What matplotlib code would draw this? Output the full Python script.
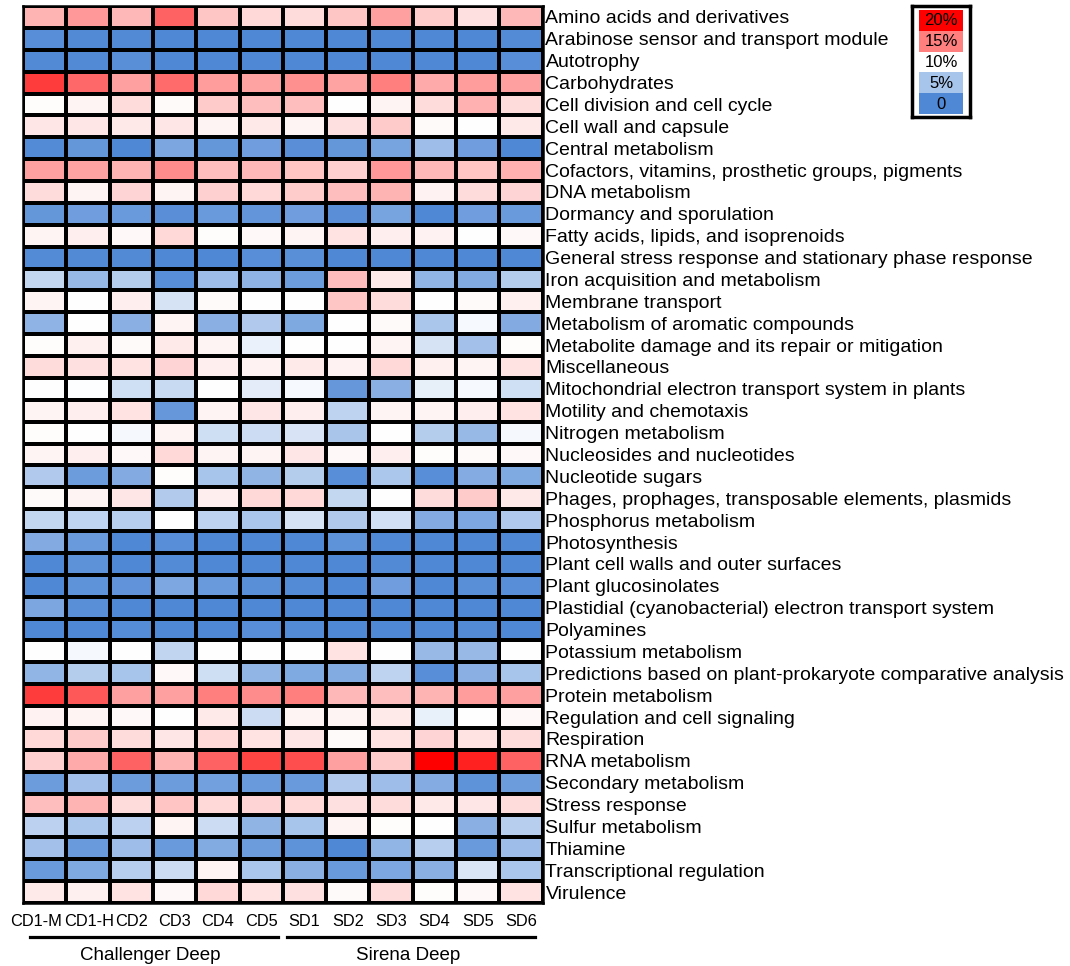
import numpy as np
import matplotlib
matplotlib.use("Agg")
import matplotlib.pyplot as plt
import matplotlib.transforms as mtransforms
from matplotlib.colors import LinearSegmentedColormap
from matplotlib.patches import Rectangle

plt.rcParams['font.family'] = ['Liberation Sans', 'DejaVu Sans']

# subsystem categories (rows, top to bottom)
categories = [
    "Amino acids and derivatives",
    "Arabinose sensor and transport module",
    "Autotrophy",
    "Carbohydrates",
    "Cell division and cell cycle",
    "Cell wall and capsule",
    "Central metabolism",
    "Cofactors, vitamins, prosthetic groups, pigments",
    "DNA metabolism",
    "Dormancy and sporulation",
    "Fatty acids, lipids, and isoprenoids",
    "General stress response and stationary phase response",
    "Iron acquisition and metabolism",
    "Membrane transport",
    "Metabolism of aromatic compounds",
    "Metabolite damage and its repair or mitigation",
    "Miscellaneous",
    "Mitochondrial electron transport system in plants",
    "Motility and chemotaxis",
    "Nitrogen metabolism",
    "Nucleosides and nucleotides",
    "Nucleotide sugars",
    "Phages, prophages, transposable elements, plasmids",
    "Phosphorus metabolism",
    "Photosynthesis",
    "Plant cell walls and outer surfaces",
    "Plant glucosinolates",
    "Plastidial (cyanobacterial) electron transport system",
    "Polyamines",
    "Potassium metabolism",
    "Predictions based on plant-prokaryote comparative analysis",
    "Protein metabolism",
    "Regulation and cell signaling",
    "Respiration",
    "RNA metabolism",
    "Secondary metabolism",
    "Stress response",
    "Sulfur metabolism",
    "Thiamine",
    "Transcriptional regulation",
    "Virulence",
]

samples = ["CD1-M", "CD1-H", "CD2", "CD3", "CD4", "CD5",
           "SD1", "SD2", "SD3", "SD4", "SD5", "SD6"]

# relative values (0-20 %) per sample, in category order
cd1_m = [12.9, 0.5, 0.2, 17.6, 10.1, 11.0, 0.3, 13.7, 11.4, 1.2, 10.4, 0.3, 6.7, 10.4,
         3.6, 10.1, 11.4, 10.0, 10.4, 10.1, 10.4, 5.5, 10.2, 6.7, 3.0, 0, 0, 2.5, 0,
         10.0, 3.8, 17.6, 10.5, 11.5, 11.8, 1.7, 12.5, 6.1, 4.7, 1.5, 10.8]
cd1_h = [14.0, 0.2, 0.2, 15.9, 10.4, 11.0, 1.2, 13.6, 10.4, 1.8, 10.7, 0.2, 4.1, 10.0,
         10.0, 10.6, 11.2, 9.9, 10.7, 10.0, 10.7, 1.7, 10.4, 6.4, 1.5, 0.8, 0.9, 0.6, 0,
         9.4, 5.8, 16.5, 10.4, 12.1, 13.3, 4.7, 12.9, 5.3, 1.5, 2.8, 10.6]
cd2 = [12.8, 0.2, 0.6, 13.7, 11.4, 10.9, 0, 12.9, 11.7, 1.5, 10.3, 0.2, 5.8, 10.7,
       3.4, 10.2, 11.1, 7.3, 11.1, 9.4, 10.3, 3.0, 11.0, 5.9, 0, 0, 1.0, 0, 0.4,
       10.0, 5.0, 13.7, 10.3, 11.4, 16.1, 1.7, 11.4, 6.1, 4.5, 5.9, 11.1]
cd3 = [16.1, 0, 0, 15.8, 10.2, 11.0, 2.5, 14.5, 10.4, 0.7, 11.5, 0, 0.5, 7.6,
       10.4, 10.8, 11.7, 6.9, 1.3, 10.4, 11.5, 10.1, 5.7, 10.0, 0.5, 0.3, 2.6, 0, 0,
       6.5, 10.3, 13.7, 10.0, 11.0, 12.9, 1.7, 12.3, 10.4, 1.5, 7.1, 10.3]
cd4 = [12.2, 0, 0, 13.9, 12.1, 10.4, 1.2, 12.5, 11.8, 1.5, 10.1, 0, 4.5, 10.2,
       3.4, 10.4, 10.7, 10.0, 10.4, 7.2, 10.4, 5.0, 10.7, 6.3, 0, 0, 1.5, 0, 0,
       10.0, 7.2, 15.0, 10.8, 11.5, 16.1, 2.0, 11.5, 7.1, 2.9, 10.4, 11.5]
cd5 = [11.5, 0, 0, 13.6, 12.5, 10.9, 1.8, 12.8, 11.5, 1.1, 10.3, 0.5, 3.6, 10.0,
       5.5, 8.8, 10.5, 8.4, 11.0, 7.1, 10.4, 3.7, 11.5, 5.3, 0, 0, 0.6, 0, 0.5,
       10.0, 3.8, 14.5, 7.1, 11.1, 17.3, 1.5, 11.7, 3.7, 1.7, 5.3, 11.1]
sd1 = [11.4, 0, 0, 14.3, 12.5, 10.4, 0.7, 12.3, 12.0, 1.8, 10.4, 0.6, 1.7, 10.0,
       2.7, 10.0, 10.8, 9.5, 10.7, 7.8, 11.0, 5.8, 11.5, 7.7, 0, 0, 0.3, 0, 0.3,
       10.0, 2.8, 15.0, 10.4, 11.0, 16.9, 1.5, 11.5, 5.0, 0.9, 3.3, 11.2]
sd2 = [12.2, 0, 0, 13.6, 10.0, 11.2, 1.2, 11.8, 12.5, 0.7, 11.1, 0, 12.6, 12.2,
       10.0, 10.0, 10.5, 1.3, 6.3, 5.1, 10.3, 0.5, 6.7, 5.6, 0.9, 0, 0, 0, 0,
       11.1, 2.9, 12.8, 10.4, 10.2, 13.7, 5.5, 11.2, 10.4, 0, 1.5, 10.2]
sd3 = [13.7, 0, 0, 15.0, 10.4, 12.1, 2.3, 14.0, 12.9, 2.3, 10.7, 0, 10.8, 11.4,
       10.2, 10.4, 11.5, 3.4, 10.4, 10.0, 10.7, 5.3, 10.0, 7.4, 0.1, 0.2, 1.8, 0, 0,
       10.0, 6.3, 12.5, 10.8, 11.1, 12.1, 4.5, 11.4, 10.1, 3.8, 2.6, 11.4]
sd4 = [12.0, 0, 0, 13.3, 11.4, 10.2, 4.5, 12.8, 10.5, 0, 10.5, 0, 3.8, 10.0,
       5.2, 7.6, 10.6, 8.6, 10.4, 5.8, 10.1, 0.5, 11.4, 3.1, 0, 0, 0, 0, 0,
       4.2, 0.5, 12.9, 8.7, 11.7, 20.0, 3.1, 10.9, 10.0, 5.9, 3.3, 10.1]
sd5 = [11.2, 0, 0, 13.9, 13.1, 10.0, 1.8, 12.3, 11.4, 1.8, 10.0, 0, 2.9, 10.2,
       9.5, 4.7, 10.4, 9.5, 10.7, 4.1, 10.2, 3.1, 12.1, 2.6, 0, 0, 0.6, 0, 0.3,
       4.2, 3.4, 13.9, 10.0, 11.1, 18.7, 0.9, 11.0, 3.4, 1.5, 7.9, 10.3]
sd6 = [12.8, 0.3, 0.5, 13.7, 11.4, 10.9, 0, 13.1, 11.7, 1.5, 10.3, 0, 5.8, 10.6,
       3.0, 10.1, 11.1, 7.3, 11.1, 9.4, 10.3, 2.8, 10.9, 5.5, 0, 0, 0.5, 0, 0,
       10.0, 5.0, 13.7, 10.3, 11.4, 16.1, 1.7, 11.4, 5.9, 4.5, 5.3, 11.1]

legend_labels = ["20%", "15%", "10%", "5%", "0"]
legend_values = [20, 15, 10, 5, 0]

values = np.array([cd1_m, cd1_h, cd2, cd3, cd4, cd5,
                   sd1, sd2, sd3, sd4, sd5, sd6]).T

cmap = LinearSegmentedColormap.from_list(
    "bwr_custom", ["#4f88d5", "#ffffff", "#ff0000"])

W, H = 1070, 966
fig = plt.figure(figsize=(W / 100, H / 100), dpi=100)

# main heatmap
x0, x1, y0, y1 = 23, 542.7, 6, 903
ax = fig.add_axes([x0 / W, 1 - y1 / H, (x1 - x0) / W, (y1 - y0) / H])
ax.pcolormesh(values, cmap=cmap, vmin=0, vmax=20,
              edgecolors="black", linewidth=1.5)
ax.set_xlim(0, len(samples))
ax.set_ylim(len(categories), 0)
for s in ax.spines.values():
    s.set_linewidth(1.8)

ax.yaxis.tick_right()
ax.set_yticks(np.arange(len(categories)) + 0.5)
ax.set_yticklabels(categories, fontsize=14)
ax.set_xticks(np.arange(len(samples)) + 0.5)
ax.set_xticklabels(samples, fontsize=11.8)
ax.tick_params(axis="y", length=0, pad=2)
ax.tick_params(axis="x", length=0, pad=8)

# first label sits a bit to the left, as in the original
first = ax.get_xticklabels()[0]
first.set_transform(first.get_transform() +
                    mtransforms.ScaledTranslation(-9 / 100, 0, fig.dpi_scale_trans))
second = ax.get_xticklabels()[1]
second.set_transform(second.get_transform() +
                     mtransforms.ScaledTranslation(1.5 / 100, 0, fig.dpi_scale_trans))

# group underlines and labels
fig.add_artist(plt.Line2D([29.5 / W, 278 / W], [1 - 937 / H] * 2,
                          color="black", linewidth=2.3))
fig.add_artist(plt.Line2D([287 / W, 535 / W], [1 - 937 / H] * 2,
                          color="black", linewidth=2.3))
fig.text(150 / W, 1 - 955 / H, "Challenger Deep", fontsize=13.5,
         ha="center", va="center")
fig.text(408 / W, 1 - 955 / H, "Sirena Deep", fontsize=13.5,
         ha="center", va="center")

# legend box
lax = fig.add_axes([912 / W, 1 - 117 / H, 58 / W, 111 / H])
lax.set_xlim(912, 970)
lax.set_ylim(117, 7)
lax.set_xticks([])
lax.set_yticks([])
for s in lax.spines.values():
    s.set_linewidth(2.5)
box_top = 11
box_h = 20.6
for i, (lab, v) in enumerate(zip(legend_labels, legend_values)):
    top = box_top + i * box_h
    lax.add_patch(Rectangle((919, top), 44, box_h,
                            facecolor=cmap(v / 20), edgecolor="none"))
    lax.text(941, top + box_h / 2 + 0.5, lab, fontsize=12,
             ha="center", va="center")

fig.savefig("out.png", dpi=100)
